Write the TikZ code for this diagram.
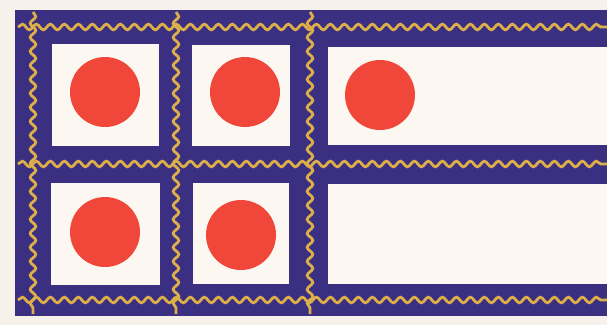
\documentclass[tikz,border=0pt]{standalone}
\usepackage{tikz}
\usetikzlibrary{decorations.pathmorphing}

\definecolor{paper}{HTML}{F6F1EA}
\definecolor{navyband}{HTML}{3A2F80}
\definecolor{goldwave}{HTML}{DDAF4A}
\definecolor{cellwhite}{HTML}{FCF8F1}
\definecolor{dotred}{HTML}{F0473A}

\begin{document}
\begin{tikzpicture}[
  x=1pt, y=-1pt,
  band/.style={fill=navyband},
  cell/.style={fill=cellwhite},
  wave/.style={draw=goldwave, line width=2.8pt, decorate,
    decoration={snake, segment length=14pt, amplitude=2.8pt}},
  dot/.style={circle, fill=dotred, minimum size=70pt, inner sep=0pt},
]
\useasboundingbox (0,0) rectangle (607,325);
\fill[paper] (0,0) rectangle (607,325);

% === Frame ===
\fill[band] (15,10) rectangle (607,316);

% === Cells ===
\fill[cell] (52,44) rectangle (159,146);
\fill[cell] (192,45) rectangle (290,146);
\fill[cell] (328,47) rectangle (607,145);
\fill[cell] (51,183) rectangle (160,285);
\fill[cell] (193,183) rectangle (289,284);
\fill[cell] (328,184) rectangle (607,284);

% === Wavy threads ===
\foreach \y in {27,164,300}
  \draw[wave] (18,\y) -- (607,\y);
\foreach \x in {33,176,310}
  \draw[wave] (\x,12) -- (\x,314);

% === Dots ===
\node[dot] (d1) at (105,92) {};
\node[dot] (d2) at (245,92) {};
\node[dot] (d3) at (380,95) {};
\node[dot] (d4) at (105,232) {};
\node[dot] (d5) at (241,235) {};
\end{tikzpicture}
\end{document}
